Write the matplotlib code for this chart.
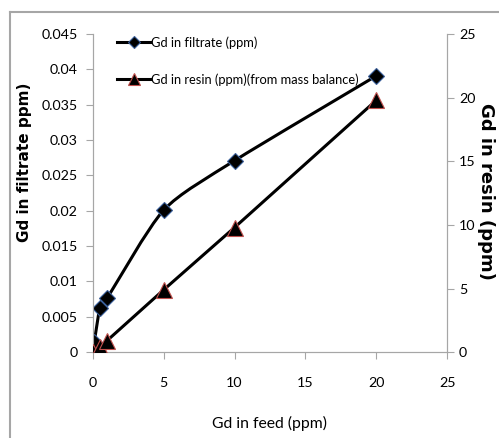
import matplotlib as mpl
mpl.use('Agg')
import matplotlib.pyplot as plt
from matplotlib.path import Path
from matplotlib.patches import PathPatch
from matplotlib.lines import Line2D

feed_ppm = [0.1, 0.5, 1, 5, 10, 20]
filtrate_ppm = [0.0014, 0.0062, 0.0076, 0.0201, 0.0271, 0.0391]
resin_feed_ppm = [0, 0.5, 1, 5, 10, 20]
resin_ppm = [0.0, 0.4, 0.9, 4.9, 9.8, 19.8]

left_ticks = [0, 0.005, 0.01, 0.015, 0.02, 0.025, 0.03, 0.035, 0.04, 0.045]
left_labels = ["0", "0.005", "0.01", "0.015", "0.02", "0.025", "0.03", "0.035", "0.04", "0.045"]
right_ticks = [0, 5, 10, 15, 20, 25]
x_ticks = [0, 5, 10, 15, 20, 25]

fs = 10.3
narrow = ["Lato", "DejaVu Sans"]
gray = "#a6a6a6"


def smooth_path(xs, ys, t = 0.12):
    # catmull-rom style bezier through the points, like excel "smoothed line"
    verts = [(xs[0], ys[0])]
    codes = [Path.MOVETO]
    n = len(xs)
    for i in range(n - 1):
        x0, y0 = (xs[i - 1], ys[i - 1]) if i > 0 else (xs[i], ys[i])
        x1, y1 = xs[i], ys[i]
        x2, y2 = xs[i + 1], ys[i + 1]
        x3, y3 = (xs[i + 2], ys[i + 2]) if i + 2 < n else (x2, y2)
        verts += [(x1 + (x2 - x0) * t, y1 + (y2 - y0) * t),
                  (x2 - (x3 - x1) * t, y2 - (y3 - y1) * t),
                  (x2, y2)]
        codes += [Path.CURVE4] * 3
    return Path(verts, codes)


fig = plt.figure(figsize = (4.99, 4.38), dpi = 100)
ax = fig.add_axes([0.186, 0.196, 0.710, 0.726])
ax2 = ax.twinx()

ax.add_patch(PathPatch(smooth_path(feed_ppm, filtrate_ppm), fill = False, lw = 2.2,
                       color = "black", zorder = 2))
ax.plot(feed_ppm, filtrate_ppm, ls = "none", marker = "D", ms = 8, mfc = "black",
        mec = "#3a5f9a", mew = 0.8, zorder = 3)
ax2.plot(resin_feed_ppm, resin_ppm, color = "black", lw = 2.2, marker = "^", ms = 11,
         mfc = "black", mec = "#c0504d", mew = 0.8, zorder = 3)

ax.set_xlim(0, 25)
ax.set_ylim(0, 0.045)
ax2.set_ylim(0, 25)
ax.set_xticks(x_ticks)
ax.set_xticklabels([str(v) for v in x_ticks], family = narrow, fontsize = fs)
ax.set_yticks(left_ticks)
ax.set_yticklabels(left_labels, family = narrow, fontsize = fs)
ax2.set_yticks(right_ticks)
ax2.set_yticklabels([str(v) for v in right_ticks], family = narrow, fontsize = fs)

for a in (ax, ax2):
    for side in ("left", "right", "bottom"):
        a.spines[side].set_color(gray)
    a.spines["top"].set_visible(False)
    a.tick_params(color = gray, length = 5, direction = "out", labelcolor = "black")
ax.tick_params(axis = "x", pad = 13)
ax.tick_params(axis = "y", pad = 6)

ax.set_xlabel("Gd in feed (ppm)", family = narrow, fontsize = fs + 1, labelpad = 19)
fig.text(25 / 499, 1 - 162 / 438, "Gd in filtrate ppm)", fontsize = 11, fontweight = "bold",
         rotation = 90, ha = "center", va = "center")
fig.text(486 / 499, 1 - 191 / 438, "Gd in resin (ppm)", fontsize = 13, fontweight = "bold",
         rotation = 270, ha = "center", va = "center")

handles = [Line2D([], [], color = "black", lw = 2.2, marker = "D", ms = 6, mfc = "black",
                  mec = "#3a5f9a", mew = 0.8),
           Line2D([], [], color = "black", lw = 2.2, marker = "^", ms = 8, mfc = "black",
                  mec = "#c0504d", mew = 0.8)]
ax.legend(handles, ["Gd in filtrate (ppm)", "Gd in resin (ppm)(from mass balance)"],
          loc = "upper left", bbox_to_anchor = (0.055, 1.01), frameon = False,
          prop = {"family": narrow, "size": 9.3}, handlelength = 2.5, handletextpad = 0.1,
          labelspacing = 1.9, borderaxespad = 0)

# outer chart frame
fig.add_artist(Line2D([10 / 499, 10 / 499], [0, 1 - 12 / 438], color = gray, lw = 1.5,
                      transform = fig.transFigure))
fig.add_artist(Line2D([10 / 499, 1], [1 - 12 / 438, 1 - 12 / 438], color = gray, lw = 1.5,
                      transform = fig.transFigure))

fig.savefig("out.png", dpi = 100)
plt.close()
